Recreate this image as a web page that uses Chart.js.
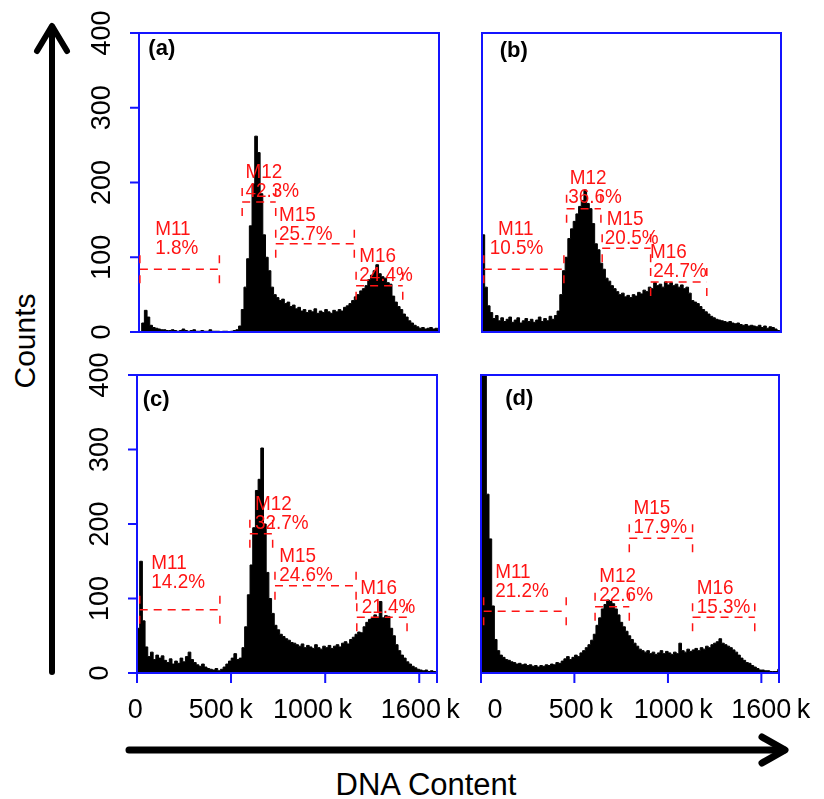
<!DOCTYPE html>
<html>
<head>
<meta charset="utf-8">
<script src="https://cdn.jsdelivr.net/npm/chart.js@4.4.1/dist/chart.umd.min.js"></script>
<style>
  body { margin: 0; background: #fff; }
  #wrap { position: relative; width: 824px; height: 799px; overflow: hidden;
          font-family: "Liberation Sans", Arial, sans-serif; }
  canvas, svg { position: absolute; left: 0; top: 0; }
  .ttl { position: absolute; color: #000; white-space: nowrap; line-height: 1;
         transform: translate(-50%, -50%); }
  #counts { left: 25px; top: 341px; font-size: 30px; transform: translate(-50%, -50%) rotate(-90deg); }
  #dna { left: 426px; top: 784px; font-size: 31px; }
</style>
</head>
<body>
<div id="wrap">
  <svg width="824" height="799">
    <g stroke="#000" fill="none" stroke-linecap="round" stroke-linejoin="round">
      <line x1="52" y1="672" x2="52" y2="27" stroke-width="6"/>
      <polyline points="37,51 52,26 67,51" stroke-width="6"/>
      <line x1="129" y1="750" x2="784" y2="750" stroke-width="7"/>
      <polyline points="762,737 785,750 762,763" stroke-width="7"/>
    </g>
  </svg>
  <div class="ttl" id="counts">Counts</div>
  <div class="ttl" id="dna">DNA Content</div>
  <canvas id="ca" width="824" height="799"></canvas>
  <canvas id="cb" width="824" height="799"></canvas>
  <canvas id="cc" width="824" height="799"></canvas>
  <canvas id="cd" width="824" height="799"></canvas>
</div>
<script>
const BLUE = '#1414ff';
const RED = '#ff1414';
const FONT = '"Liberation Sans", Arial, sans-serif';

// histogram channels: 15k wide, starting at 0
const binWidth = 15;
const xMax = 1672;
const yMax = 400;
const yTickValues = [0, 100, 200, 300, 400];
const xTickValues = [0, 524, 1049, 1573];
const xTickLabels = ['0', '500\u2009k', '1000\u2009k', '1600\u2009k'];
const xLabelAtC = [-10, 467, 978, 1579];
const xLabelAtD = [78, 560, 1079, 1626];

const countsA = [
  0, 12, 29, 20, 9, 6,
  5, 4, 3, 3, 2, 2, 3, 2, 1, 2, 4, 2, 1, 2, 3, 1, 1, 2, 1, 1, 3, 1, 1, 1, 0, 1, 1, 0, 1, 2,
  3, 8, 30, 60, 98, 142, 198, 262, 240, 185, 130, 100, 82, 60, 50, 46,
  42, 44, 38, 40, 34, 36, 31, 33, 28, 30, 26, 29, 27, 31, 25, 28, 26, 30, 27, 25, 29, 27, 30, 28,
  33, 35, 38, 42, 47, 50, 55, 58, 62, 70, 76, 82, 90, 78, 74, 72, 66, 64, 48, 40,
  34, 30, 24, 20, 15, 12, 9, 7, 5, 6, 4, 5, 6, 4, 5, 3
];
const countsB = [
  130, 60, 35, 26, 18, 22, 15, 19, 14, 17, 20, 13, 16, 19, 12, 15, 18, 14, 17, 13, 16, 20, 14, 18, 15, 21, 17, 22,
  28, 50, 82, 100, 125, 138, 148, 158, 168, 176, 190, 172, 165, 145, 118, 110, 92, 84, 72, 68,
  62, 58, 54, 50, 52, 47, 49, 46, 50, 48, 53, 51, 56, 54, 60, 58, 66, 62, 64, 60, 67, 63, 66, 62, 64, 60, 63, 58, 60, 52,
  42, 40, 38, 34, 30, 27, 24, 21, 19, 17, 16, 15, 14, 13, 14, 12, 11, 12, 10, 9,
  10, 8, 9, 8, 7, 9, 6, 8, 5, 7, 6, 4, 2, 1
];
const countsC = [
  60, 150, 70, 35, 22, 28, 18, 24, 20, 23, 17, 14, 19, 12, 16, 13, 20, 15, 22, 28,
  18, 14, 11, 9, 12, 8, 6, 5, 4, 6, 3, 5, 8, 12, 16, 20, 26,
  18, 20, 34, 62, 105, 145, 195, 245, 260, 302, 200, 135, 100, 80, 64,
  58, 52, 49, 46, 44, 41, 40, 38, 36, 39, 34, 37, 35, 33, 38, 34, 32, 36, 34, 37, 33, 36, 38, 35,
  40, 42, 39, 45, 48, 52, 55, 54, 62, 68, 72, 74, 78, 75, 96, 74, 77, 76, 60, 50,
  38, 30, 24, 20, 15, 12, 9, 7, 5, 4, 3, 4, 2, 3, 2, 2
];
const countsD = [
  480, 420, 240, 180, 90, 45, 30, 24, 21, 18, 17, 15, 14, 12, 13, 11, 12, 10, 11, 9, 10, 8, 10, 9, 11, 10, 12, 11, 14, 13,
  16, 19, 22, 18, 21, 24, 22, 27, 30, 34, 38, 44, 52, 64, 74, 86, 92, 98, 96, 93, 86, 78, 68, 62, 56, 50, 45, 40, 36, 32,
  30, 28, 30, 26, 28, 25, 27, 30, 26, 29, 27, 25, 28, 26, 40, 30, 28, 32, 29, 31, 33, 30, 34, 32, 36, 34, 38, 40, 42, 46,
  40, 38, 36, 34, 31, 28, 24, 20, 17, 14, 13, 10, 8, 6, 4, 4, 3, 3, 2, 2, 2, 5
];

// marker: name, percent, from, to, level, name x, percent x, percent baseline
const markersA = [
  ['M11', '1.8%', 5, 448, 84, 90, 90, 105],
  ['M12', '42.3%', 575, 762, 174, 594, 594, 181],
  ['M15', '25.7%', 762, 1200, 118, 780, 780, 123],
  ['M16', '24.4%', 1210, 1470, 62, 1228, 1228, 68]
];
const markersB = [
  ['M11', '10.5%', 10, 458, 84, 90, 43, 105],
  ['M12', '36.6%', 473, 665, 165, 491, 482, 172],
  ['M15', '20.5%', 672, 943, 112, 697, 687, 118],
  ['M16', '24.7%', 943, 1257, 67, 940, 958, 73]
];
const markersC = [
  ['M11', '14.2%', 15, 462, 85, 80, 80, 114],
  ['M12', '32.7%', 629, 756, 187, 657, 657, 193],
  ['M15', '24.6%', 769, 1221, 117, 793, 793, 124],
  ['M16', '21.4%', 1225, 1505, 75, 1244, 1253, 81]
];
const markersD = [
  ['M11', '21.2%', 15, 478, 83, 80, 80, 102],
  ['M12', '22.6%', 640, 832, 89, 664, 664, 96],
  ['M15', '17.9%', 832, 1187, 181, 855, 855, 188],
  ['M16', '15.3%', 1187, 1536, 75, 1210, 1210, 80]
];

const panels = [
  { id: 'ca', tag: '(a)', tagAt: [52, 370], counts: countsA, markers: markersA,
    pad: { left: 139, top: 33, right: 385, bottom: 467 }, yTicks: true, xLabelAt: null },
  { id: 'cb', tag: '(b)', tagAt: [99, 368], counts: countsB, markers: markersB,
    pad: { left: 482, top: 33, right: 43, bottom: 467 }, yTicks: false, xLabelAt: null },
  { id: 'cc', tag: '(c)', tagAt: [32, 359], counts: countsC, markers: markersC,
    pad: { left: 137, top: 375, right: 387, bottom: 126 }, yTicks: true, xLabelAt: xLabelAtC },
  { id: 'cd', tag: '(d)', tagAt: [136, 360], counts: countsD, markers: markersD,
    pad: { left: 481, top: 375, right: 45, bottom: 126 }, yTicks: false, xLabelAt: xLabelAtD }
];

function histPoints(counts) {
  const pts = counts.map((c, i) => ({ x: i * binWidth, y: c }));
  pts.push({ x: counts.length * binWidth, y: counts[counts.length - 1] });
  return pts;
}

function redText(ctx, s, px, py) {
  ctx.save();
  ctx.translate(px, py);
  ctx.scale(0.9, 1);
  ctx.fillText(s, 0, 0);
  ctx.restore();
}

function makeDecor(p) {
  return {
    id: 'panelDecor',
    afterDatasetsDraw(chart) {
      const { ctx, chartArea: a } = chart;
      const x = chart.scales.x, y = chart.scales.y;
      ctx.save();

      // blue frame + ticks
      ctx.strokeStyle = BLUE;
      ctx.lineWidth = 2;
      ctx.strokeRect(a.left, a.top, a.right - a.left, a.bottom - a.top);

      if (p.yTicks) {
        ctx.beginPath();
        yTickValues.forEach(v => {
          const py = y.getPixelForValue(v);
          ctx.moveTo(a.left - 9, py);
          ctx.lineTo(a.left, py);
        });
        ctx.stroke();
        ctx.fillStyle = '#000';
        ctx.font = '27px ' + FONT;
        ctx.textAlign = 'center';
        ctx.textBaseline = 'alphabetic';
        yTickValues.forEach(v => {
          ctx.save();
          ctx.translate(a.left - 29, y.getPixelForValue(v));
          ctx.rotate(-Math.PI / 2);
          ctx.fillText(String(v), 0, 0);
          ctx.restore();
        });
      }

      if (p.xLabelAt) {
        ctx.beginPath();
        xTickValues.concat([xMax]).forEach(v => {
          const px = x.getPixelForValue(v);
          ctx.moveTo(px, a.bottom);
          ctx.lineTo(px, a.bottom + 10);
        });
        ctx.stroke();
        ctx.fillStyle = '#000';
        ctx.font = '27px ' + FONT;
        ctx.textAlign = 'center';
        ctx.textBaseline = 'alphabetic';
        p.xLabelAt.forEach((v, i) => {
          ctx.fillText(xTickLabels[i], x.getPixelForValue(v), a.bottom + 45);
        });
      }

      // gate markers
      ctx.strokeStyle = RED;
      ctx.fillStyle = RED;
      ctx.lineWidth = 1.5;
      ctx.font = '21px ' + FONT;
      ctx.textAlign = 'left';
      p.markers.forEach(m => {
        const [name, pct, x1, x2, level, nameX, pctX, labelY] = m;
        const p1 = x.getPixelForValue(x1), p2 = x.getPixelForValue(x2);
        const py = y.getPixelForValue(level);
        ctx.setLineDash([8, 6]);
        ctx.beginPath();
        ctx.moveTo(p1, py);
        ctx.lineTo(p2, py);
        ctx.stroke();
        ctx.setLineDash([8, 12]);
        ctx.beginPath();
        ctx.moveTo(p1, py - 14);
        ctx.lineTo(p1, py + 14);
        ctx.moveTo(p2, py - 14);
        ctx.lineTo(p2, py + 14);
        ctx.stroke();
        const by = y.getPixelForValue(labelY);
        redText(ctx, pct, x.getPixelForValue(pctX), by);
        redText(ctx, name, x.getPixelForValue(nameX), by - 19);
      });
      ctx.setLineDash([]);

      // panel tag
      ctx.fillStyle = '#000';
      ctx.font = 'bold 22px ' + FONT;
      ctx.fillText(p.tag, x.getPixelForValue(p.tagAt[0]), y.getPixelForValue(p.tagAt[1]));
      ctx.restore();
    }
  };
}

panels.forEach(p => {
  new Chart(document.getElementById(p.id), {
    type: 'line',
    data: {
      datasets: [{
        data: histPoints(p.counts),
        stepped: 'before',
        fill: 'origin',
        borderColor: '#000',
        backgroundColor: '#000',
        borderWidth: 1,
        pointRadius: 0
      }]
    },
    options: {
      responsive: false,
      animation: false,
      events: [],
      layout: { padding: p.pad },
      scales: {
        x: { type: 'linear', min: 0, max: xMax, display: false },
        y: { type: 'linear', min: 0, max: yMax, display: false }
      },
      plugins: { legend: { display: false }, tooltip: { enabled: false } }
    },
    plugins: [makeDecor(p)]
  });
});
</script>
</body>
</html>
